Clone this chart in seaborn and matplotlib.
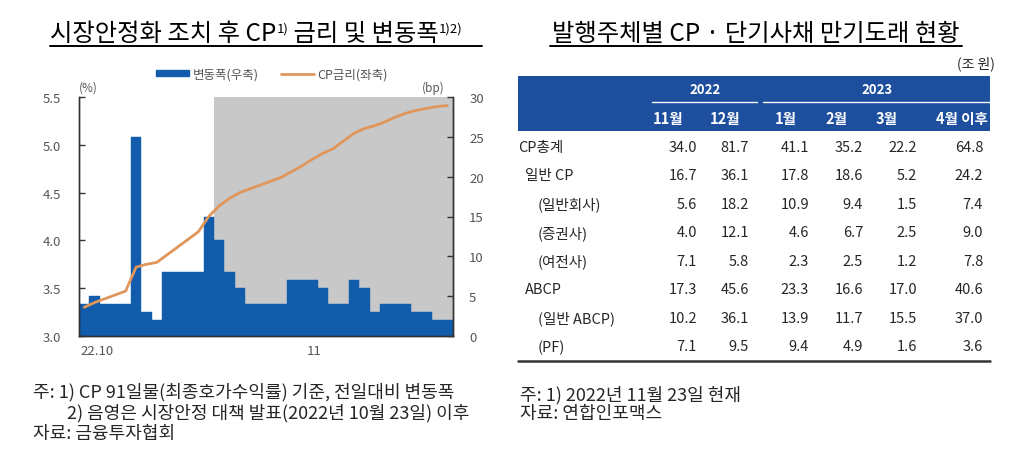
import numpy as np
import pandas as pd
import matplotlib
matplotlib.use("Agg")
import matplotlib.pyplot as plt
import seaborn as sns
from matplotlib.patches import Patch, Rectangle
from matplotlib.lines import Line2D

# ---------------- data ----------------
# daily change of CP rate (bp, right axis), business days 2022-10-04 .. 2022-11-23
bp_change = [4, 5, 4, 4, 4, 25, 3, 2, 8, 8, 8, 8, 15, 12, 8, 6, 4, 4, 4, 4,
             7, 7, 7, 6, 4, 4, 7, 6, 3, 4, 4, 4, 3, 3, 2, 2]
# CP 91-day rate (%, left axis)
cp_rate = [3.30, 3.35, 3.39, 3.43, 3.47, 3.72, 3.75, 3.77, 3.85, 3.93, 4.01, 4.09,
           4.25, 4.36, 4.44, 4.50, 4.54, 4.58, 4.62, 4.66, 4.72, 4.78, 4.85, 4.91,
           4.96, 5.04, 5.12, 5.17, 5.20, 5.24, 5.29, 5.33, 5.36, 5.38, 5.40, 5.41]
shade_start = 13          # first business day after the 2022-10-23 announcement
x_tick_pos = [1.24, 22.2]
x_tick_labels = ["22.10", "11"]
left_ticks = [3.0, 3.5, 4.0, 4.5, 5.0, 5.5]
right_ticks = [0, 5, 10, 15, 20, 25, 30]

# table
col_years = ["2022", "2023"]
col_months = ["11월", "12월", "1월", "2월", "3월", "4월 이후"]
row_labels = ["CP총계", "일반 CP", "(일반회사)", "(증권사)", "(여전사)", "ABCP", "(일반 ABCP)", "(PF)"]
row_indent = [0, 1, 2, 2, 2, 1, 2, 2]
table_values = [
    [34.0, 81.7, 41.1, 35.2, 22.2, 64.8],
    [16.7, 36.1, 17.8, 18.6, 5.2, 24.2],
    [5.6, 18.2, 10.9, 9.4, 1.5, 7.4],
    [4.0, 12.1, 4.6, 6.7, 2.5, 9.0],
    [7.1, 5.8, 2.3, 2.5, 1.2, 7.8],
    [17.3, 45.6, 23.3, 16.6, 17.0, 40.6],
    [10.2, 36.1, 13.9, 11.7, 15.5, 37.0],
    [7.1, 9.5, 9.4, 4.9, 1.6, 3.6],
]

# ---------------- style ----------------
sns.set_theme(style="white")
KR = ["Noto Sans CJK KR", "DejaVu Sans"]
plt.rcParams["font.family"] = KR
plt.rcParams["axes.unicode_minus"] = False

W, H = 1024, 477
fig = plt.figure(figsize=(W / 100, H / 100), dpi=100)
fig.patch.set_facecolor("white")


def fx(x):
    return x / W


def fy(y):
    return 1 - y / H


BLUE = "#125cac"
ORANGE = "#e0965a"
SHADE = "#c8c8c8"
GRAY = "#555555"

# ---------------- chart ----------------
L, R, T, B = 79, 452.5, 98, 337
ax = fig.add_axes([fx(L), fy(B), fx(R - L), (B - T) / H])
df = pd.DataFrame({"i": np.arange(len(bp_change)), "bp": bp_change, "rate": cp_rate})

ax.axvspan(shade_start - 0.5, len(bp_change) - 0.5, color=SHADE, zorder=0, lw=0)
sns.barplot(data=df, x="i", y="bp", ax=ax, color=BLUE, width=1.0, saturation=1,
            edgecolor=BLUE, linewidth=0.3, zorder=2)
ax.set_ylim(0, 30)
ax.set_xlim(-0.5, len(bp_change) - 0.5)
ax.set_xlabel("")
ax.set_ylabel("")

ax2 = ax.twinx()
sns.lineplot(data=df, x="i", y="rate", ax=ax2, color=ORANGE, lw=2.0)
ax2.set_ylim(3.0, 5.5)
ax2.set_xlabel("")
ax2.set_ylabel("")
ax2.set_xlim(-0.5, len(bp_change) - 0.5)

# bp axis on the right, % axis on the left
ax.yaxis.tick_right()
ax.yaxis.set_label_position("right")
ax.set_yticks(right_ticks)
ax.set_yticklabels([str(t) for t in right_ticks])
ax2.yaxis.tick_left()
ax2.yaxis.set_label_position("left")
ax2.set_yticks(left_ticks)
ax2.set_yticklabels([f"{t:.1f}" for t in left_ticks])

ax.set_xticks(x_tick_pos)
ax.set_xticklabels(x_tick_labels)
ax.set_xticks(np.arange(len(bp_change)) - 0.5, minor=True)

for a in (ax, ax2):
    a.spines["top"].set_visible(False)
    for s in ("left", "right", "bottom"):
        a.spines[s].set_color("#333333")
        a.spines[s].set_linewidth(1.0)
    a.tick_params(axis="y", direction="in", length=4, width=1, color="#333333",
                  labelsize=9.5, labelcolor=GRAY)
ax.tick_params(axis="y", pad=12)
ax2.tick_params(axis="y", pad=13)
ax.tick_params(axis="x", which="major", length=0, labelsize=9.5, labelcolor=GRAY, pad=6)
ax.tick_params(axis="x", which="minor", direction="in", length=2, width=0.8, color="#333333")
ax2.xaxis.set_visible(False)

fig.text(fx(88), fy(88), "(%)", fontsize=8.5, color=GRAY, ha="center", va="center")
fig.text(fx(433), fy(88), "(bp)", fontsize=8.5, color=GRAY, ha="center", va="center")

handles = [Patch(facecolor=BLUE, edgecolor=BLUE), Line2D([0], [0], color=ORANGE, lw=2)]
fig.legend(handles, ["변동폭(우축)", "CP금리(좌축)"], loc="center",
           bbox_to_anchor=(fx(272), fy(75)), ncol=2, frameon=False, fontsize=9,
           labelcolor=GRAY, handlelength=2.6, handleheight=0.45, columnspacing=1.8,
           handletextpad=0.3)

# ---------------- titles ----------------
renderer = fig.canvas.get_renderer()


def runs(x, y, parts, color="black"):
    cx = x
    for text, size, dy in parts:
        t = fig.text(fx(cx), fy(y - dy), text, fontsize=size, color=color,
                     ha="left", va="baseline")
        bb = t.get_window_extent(renderer=renderer)
        cx += bb.width
    return cx


runs(50, 41, [("시장안정화 조치 후 CP", 17.5, 0), ("1)", 9.5, 8),
              (" 금리 및 변동폭", 17.5, 0), ("1)2)", 9.5, 8)])
fig.add_artist(Line2D([fx(50), fx(482)], [fy(47), fy(47)], color="black", lw=1.4))
runs(552, 41, [("발행주체별 CP · 단기사채 만기도래 현황", 17.5, 0)])
fig.add_artist(Line2D([fx(550), fx(962)], [fy(47), fy(47)], color="black", lw=1.4))

# ---------------- table ----------------
fig.text(fx(995), fy(64), "(조 원)", fontsize=10, ha="right", va="center")
fig.add_artist(Rectangle((fx(518), fy(132)), fx(990 - 518), (132 - 77) / H,
                         transform=fig.transFigure, color="#1d4f9e", lw=0))
fig.text(fx(705), fy(90), col_years[0], fontsize=9.5, color="white", weight="bold",
         ha="center", va="center")
fig.text(fx(877), fy(90), col_years[1], fontsize=9.5, color="white", weight="bold",
         ha="center", va="center")
fig.add_artist(Line2D([fx(652), fx(757)], [fy(103), fy(103)], color="white", lw=1))
fig.add_artist(Line2D([fx(763), fx(990)], [fy(103), fy(103)], color="white", lw=1))

col_right = [697, 749, 809, 863, 917, 983]
head_right = [683, 740, 797, 847, 898, 988]
for m, xr in zip(col_months, head_right):
    fig.text(fx(xr), fy(119), m, fontsize=10.5, color="white", weight="bold",
             ha="right", va="center")

indent_x = [518, 525, 538]
row_y0, row_dy = 148, 28.5
for r, (lab, ind, vals) in enumerate(zip(row_labels, row_indent, table_values)):
    y = row_y0 + r * row_dy
    fig.text(fx(indent_x[ind]), fy(y), lab, fontsize=10.5, ha="left", va="center")
    for v, xr in zip(vals, col_right):
        fig.text(fx(xr), fy(y), f"{v:.1f}", fontsize=10.5, ha="right", va="center")
fig.add_artist(Line2D([fx(518), fx(990)], [fy(362), fy(362)], color="#333333", lw=1.8))

# ---------------- footnotes ----------------
fn = 13
fig.text(fx(33), fy(392), "주: 1) CP 91일물(최종호가수익률) 기준, 전일대비 변동폭", fontsize=fn,
         ha="left", va="center")
fig.text(fx(67), fy(413), "2) 음영은 시장안정 대책 발표(2022년 10월 23일) 이후", fontsize=fn,
         ha="left", va="center")
fig.text(fx(33), fy(434), "자료: 금융투자협회", fontsize=fn, ha="left", va="center")
fig.text(fx(520), fy(395), "주: 1) 2022년 11월 23일 현재", fontsize=fn, ha="left", va="center")
fig.text(fx(520), fy(414), "자료: 연합인포맥스", fontsize=fn, ha="left", va="center")

fig.savefig("out.png", dpi=100, facecolor="white")
